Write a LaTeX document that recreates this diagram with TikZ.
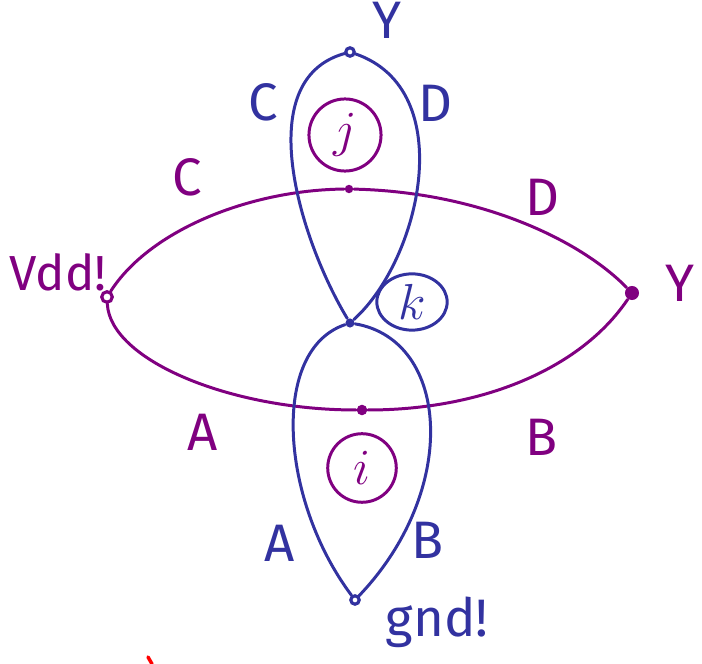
\documentclass[tikz,border=0pt]{standalone}
\usepackage{fontspec}
\setmainfont{Fira Sans}
\definecolor{wirep}{RGB}{128,0,128}
\definecolor{wireb}{RGB}{50,50,160}
\usetikzlibrary{calc, positioning}
\usetikzlibrary{shapes.geometric}

\begin{document}
\begin{tikzpicture}[x=0.01cm, y=-0.01cm,
  pwire/.style={wirep, line width=0.85pt, line cap=round},
  bwire/.style={wireb, line width=0.85pt, line cap=round},
  opendot/.style={circle, draw=#1, line width=0.9pt, fill=white, inner sep=0pt, minimum size=2.4pt},
  fulldot/.style={circle, fill=#1, inner sep=0pt, minimum size=2.6pt},
  lbl/.style={font=\fontsize{15}{15}\selectfont, inner sep=0pt}]
\useasboundingbox (0,0) rectangle (702,664);

% Purple graph nodes
\node[opendot=wirep, minimum size=3pt] (vdd) at (107,297) {};
\node[fulldot=wirep, minimum size=4pt] (yout) at (632,293) {};
\node[fulldot=wirep, minimum size=2.4pt] (pcd) at (349,189) {};
\node[fulldot=wirep, minimum size=3pt] (pab) at (362,410) {};

% Blue graph nodes
\node[opendot=wireb] (ytop) at (350,52) {};
\node[fulldot=wireb] (mid) at (350,323) {};
\node[opendot=wireb] (gnd) at (355,600) {};

% Purple edges
\draw[pwire] (vdd) .. controls (150,230) and (250,190) .. (pcd);
\draw[pwire] (pcd) .. controls (480,192) and (580,240) .. (yout);
\draw[pwire] (vdd) .. controls (110,360) and (230,410) .. (pab);
\draw[pwire] (pab) .. controls (480,410) and (580,370) .. (yout);

% Blue edges
\draw[bwire] (mid) .. controls (300,240) and (250,80) .. (ytop);
\draw[bwire] (ytop) .. controls (460,90) and (420,260) .. (mid);
\draw[bwire] (mid) .. controls (270,350) and (280,500) .. (gnd);
\draw[bwire] (gnd) .. controls (460,490) and (450,340) .. (mid);

% Face labels
\node[draw, circle, wirep, line width=0.85pt, minimum size=20.5pt, lbl] (facej) at (345,135) {$j$};
\node[draw, circle, wirep, line width=0.85pt, minimum size=19.5pt, lbl] (facei) at (362,468) {$i$};
\node[draw, ellipse, wireb, line width=0.85pt, minimum width=20pt, minimum height=16pt, lbl] (facek) at (412,302) {$k$};

% Edge labels
\node[lbl, wireb] (lytop) at (387,20) {Y};
\node[lbl, wireb] (lbc) at (263,102) {C};
\node[lbl, wireb] (lbd) at (435,103) {D};
\node[lbl, wirep] (lpc) at (187,177) {C};
\node[lbl, wirep] (lpd) at (542,197) {D};
\node[lbl, wirep, font=\fontsize{14}{14}\selectfont] (lvdd) at (58,272) {Vdd!};
\node[lbl, wirep] (lyout) at (680,283) {Y};
\node[lbl, wirep] (lpa) at (203,432) {A};
\node[lbl, wirep] (lpb) at (542,437) {B};
\node[lbl, wireb] (lba) at (280,543) {A};
\node[lbl, wireb] (lbb) at (428,540) {B};
\node[lbl, wireb] (lgnd) at (437,622) {gnd!};

% stray mark
\draw[red, line width=1pt, line cap=round] (148,657) -- (152,664);
\end{tikzpicture}
\end{document}
